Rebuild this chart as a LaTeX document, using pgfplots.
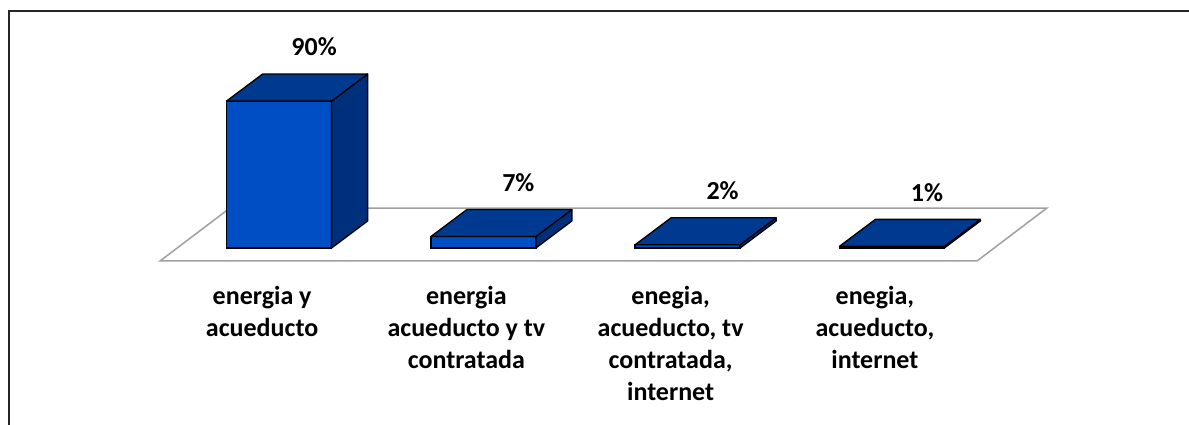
\documentclass[border=0pt]{standalone}
\usepackage{fontspec}
\setmainfont{Carlito}
\usepackage{pgfplots}
\pgfplotsset{compat=1.18}
\definecolor{frontc}{HTML}{004EC4}
\definecolor{topc}{HTML}{003A90}
\definecolor{sidec}{HTML}{002F7C}
\definecolor{floorc}{HTML}{A0A0A0}
\newcommand{\lblfont}{\bfseries\fontsize{26.1}{32.1}\selectfont}
\begin{document}
\begin{tikzpicture}
\useasboundingbox (0,0) rectangle (1189bp,425bp);
\draw[line width=1.5bp, black!85] (9bp,-10bp) -- (9bp,414bp) -- (1200bp,414bp);
\begin{axis}[
  at={(177bp,177bp)}, anchor=south west,
  scale only axis, width=817bp, height=163.3bp,
  xmin=-0.5, xmax=3.5, ymin=0, ymax=100,
  clip=false,
  axis x line=bottom, axis y line=none,
  x axis line style={draw=none},
  major tick length=0pt,
  xtick={0,1,2,3},
  xticklabels={{energia y\\acueducto},{energia\\acueducto y tv\\contratada},{enegia,\\acueducto, tv\\contratada,\\internet},{enegia,\\acueducto,\\internet}},
  xticklabel style={align=center, anchor=north, font=\lblfont, xshift=-17bp, yshift=-35bp},
  ytick=\empty,
  /pgf/number format/assume math mode=true,
]
% floor
\addplot[draw=floorc, line width=1.5bp, fill=white] coordinates {(-0.583,-7.96) (3.417,-7.96) (3.759,24.49) (-0.2405,24.49)} -- cycle;
% front faces with value labels
\addplot[ybar, bar width=105bp, fill=frontc, draw=black, line width=1.3bp,
  point meta=y,
  nodes near coords={\pgfmathprintnumber[assume math mode=true]{\pgfplotspointmeta}\%},
  every node near coord/.append style={anchor=center, xshift=35bp, yshift=54bp, font=\lblfont, text=black},
] coordinates {(0,90) (1,7) (2,2) (3,1)};
% top and side faces
\addplot[scatter, only marks, mark=none,
  visualization depends on={y \as \val},
  scatter/@pre marker code/.code={%
    \pgfmathsetmacro\hh{\val*1.633}%
    \filldraw[fill=sidec, draw=black, line width=1.3bp, line join=round] (52.5bp,0bp) -- ++(36bp,27bp) -- ++(0bp,-\hh bp) -- ++(-36bp,-27bp) -- cycle;%
    \filldraw[fill=topc, draw=black, line width=1.3bp, line join=round] (-52.5bp,0bp) -- ++(36bp,27bp) -- ++(105bp,0bp) -- ++(-36bp,-27bp) -- cycle;%
  },
  scatter/@post marker code/.code={},
] coordinates {(0,90) (1,7) (2,2) (3,1)};
\end{axis}
\end{tikzpicture}
\end{document}
